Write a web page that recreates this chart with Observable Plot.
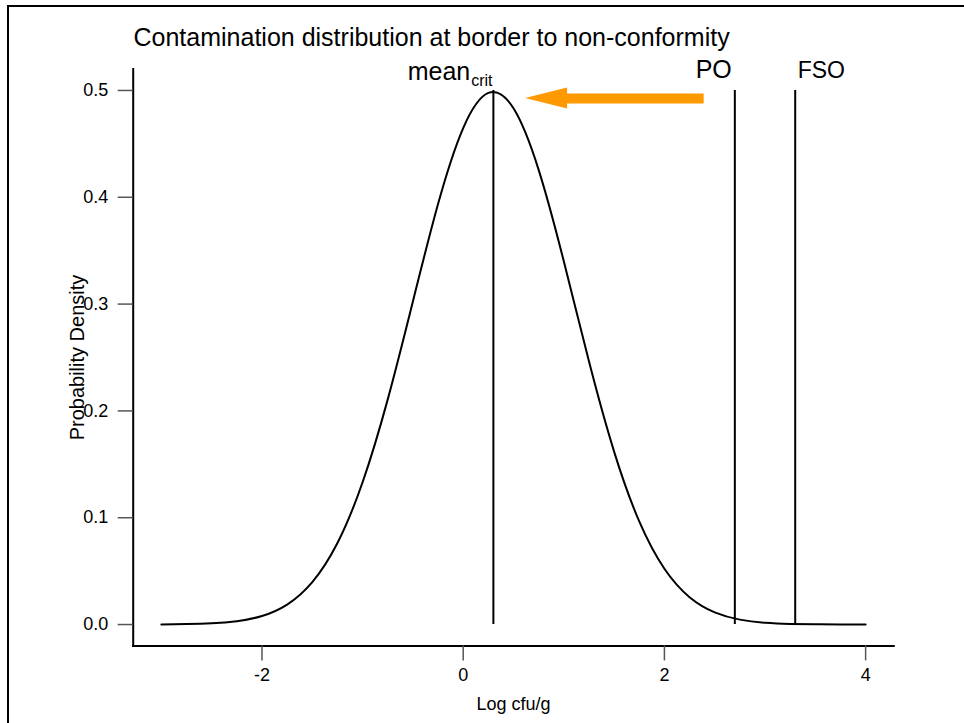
<!DOCTYPE html>
<html>
<head>
<meta charset="utf-8">
<script src="https://cdn.jsdelivr.net/npm/d3@7"></script>
<script src="https://cdn.jsdelivr.net/npm/@observablehq/plot@0.6"></script>
<style>
  html, body { margin: 0; padding: 0; background: #fff; }
  #wrap { position: relative; width: 964px; height: 723px; overflow: hidden; font-family: "Liberation Sans", Arial, sans-serif; }
  #border { position: absolute; left: 7px; top: 5px; width: 960px; height: 716px;
            border-left: 2px solid #000; border-top: 2px solid #000; border-bottom: 1px solid #9a9a9a; }
  #chart { position: absolute; left: 0; top: 0; }
</style>
</head>
<body>
<div id="wrap"><div id="border"></div><div id="chart"></div></div>
<script>
// ---- data ----
const title = "Contamination distribution at border to non-conformity";
const xLabel = "Log cfu/g";
const yLabel = "Probability Density";

// density curve (Log cfu/g -> probability density)
const curveX = [-3, -2.75, -2.5, -2.25, -2, -1.75, -1.5, -1.25, -1, -0.75, -0.5, -0.25, 0, 0.25, 0.5, 0.75, 1, 1.25, 1.5, 1.75, 2, 2.25, 2.5, 2.75, 3, 3.25, 3.5, 3.75, 4];
const curveY = [0.0001, 0.0004, 0.0011, 0.0031, 0.0080, 0.0187, 0.0397, 0.0763, 0.1332, 0.2108, 0.3025, 0.3937, 0.4648, 0.4977, 0.4833, 0.4257, 0.3401, 0.2464, 0.1619, 0.0965, 0.0522, 0.0256, 0.0114, 0.0046, 0.0017, 0.0006, 0.0002, 0.0000, 0.0000];

// vertical reference lines
const markerNames = ["mean_crit", "PO", "FSO"];
const markerX = [0.3, 2.7, 3.3];
const markerTop = 0.5;

// arrow (tail -> tip) at density level
const arrowTail = 2.39;
const arrowTip = 0.62;
const arrowLevel = 0.4925;

// axis ticks
const xTicks = [-2, 0, 2, 4];
const yTicks = [0, 0.1, 0.2, 0.3, 0.4, 0.5];

// ---- layout ----
const W = 964, H = 723;
const mL = 132.7, mR = 70.7, mT = 68.6, mB = 77.6;
const xDomain = [-3.28, 4.28], yDomain = [-0.02, 0.52];
const pxPerY = (H - mT - mB) / (yDomain[1] - yDomain[0]);
const pxPerX = (W - mL - mR) / (xDomain[1] - xDomain[0]);
const headHalf = 10.5 / pxPerY;   // arrow head half-width
const headLen = 42 / pxPerX;      // arrow head length
const orange = "#ff9900";

const curve = curveX.map((x, i) => ({x, y: curveY[i]}));
const markers = markerX.map((x, i) => ({name: markerNames[i], x}));
const shaft = [{x: arrowTail, y: arrowLevel}, {x: arrowTip + headLen - 0.01, y: arrowLevel}];
const head = [
  {x: arrowTip, y1: arrowLevel, y2: arrowLevel},
  {x: arrowTip + headLen, y1: arrowLevel - headHalf, y2: arrowLevel + headHalf}
];

const chart = Plot.plot({
  width: W, height: H,
  marginLeft: mL, marginRight: mR, marginTop: mT, marginBottom: mB,
  x: {domain: xDomain},
  y: {domain: yDomain},
  style: {fontFamily: "'Liberation Sans', Arial, sans-serif", fontSize: "18px", background: "transparent", color: "#000", overflow: "visible"},
  marks: [
    Plot.frame({anchor: "left", strokeWidth: 2, stroke: "#000"}),
    Plot.frame({anchor: "bottom", strokeWidth: 2, stroke: "#000"}),
    Plot.axisX({ticks: xTicks, tickFormat: d => String(d), tickSize: 15, tickPadding: 7, stroke: "#555", strokeWidth: 1.5, fill: "#000", fontSize: 18, label: null}),
    Plot.axisY({ticks: yTicks, tickFormat: d => d.toFixed(1), tickSize: 15, tickPadding: 10, stroke: "#555", strokeWidth: 1.5, fill: "#000", fontSize: 18, label: null}),
    Plot.line(curve, {x: "x", y: "y", curve: "natural", stroke: "#000", strokeWidth: 2}),
    Plot.ruleX(markers, {x: "x", y1: 0, y2: markerTop, stroke: "#000", strokeWidth: 2}),
    Plot.line(shaft, {x: "x", y: "y", stroke: orange, strokeWidth: 10, strokeLinecap: "butt"}),
    Plot.areaY(head, {x: "x", y1: "y1", y2: "y2", fill: orange}),
    // title
    Plot.text([title], {text: d => d, frameAnchor: "top-left", textAnchor: "start", lineAnchor: "bottom", dx: 0.3, dy: -23.6, fontSize: 25}),
    // axis titles
    Plot.text([xLabel], {text: d => d, frameAnchor: "bottom", textAnchor: "middle", lineAnchor: "bottom", dy: 64, fontSize: 18}),
    Plot.text([yLabel], {text: d => d, frameAnchor: "left", rotate: -90, textAnchor: "middle", lineAnchor: "middle", dx: -55.7, fontSize: 20}),
    // marker labels
    Plot.text(["mean"], {text: d => d, x: 0.07, y: 0.510, textAnchor: "end", lineAnchor: "bottom", fontSize: 25}),
    Plot.text(["crit"], {text: d => d, x: 0.07, y: 0.504, textAnchor: "start", lineAnchor: "bottom", dx: 1, fontSize: 16}),
    Plot.text(["PO"], {text: d => d, x: 2.49, y: 0.512, textAnchor: "middle", lineAnchor: "bottom", fontSize: 25}),
    Plot.text(["FSO"], {text: d => d, x: 3.56, y: 0.512, textAnchor: "middle", lineAnchor: "bottom", fontSize: 23})
  ]
});
document.getElementById("chart").appendChild(chart);
</script>
</body>
</html>
